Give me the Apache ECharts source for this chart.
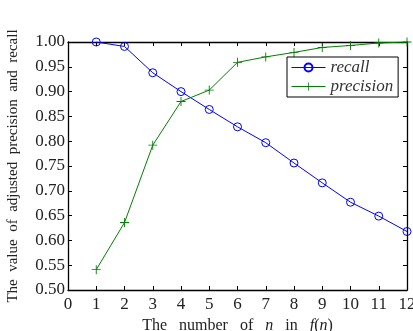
<!DOCTYPE html>
<html><head><meta charset="utf-8">
<script src="https://cdn.jsdelivr.net/npm/echarts@6/dist/echarts.min.js"></script>
<style>html,body{margin:0;padding:0;background:#fff}#c{width:413px;height:331px}</style>
</head><body><div id="c"></div>
<script>
var nValues = [1,2,3,4,5,6,7,8,9,10,11,12];
var recall = [1.000,0.991,0.938,0.900,0.864,0.829,0.797,0.756,0.716,0.677,0.649,0.618];
var precision = [0.541,0.636,0.792,0.880,0.903,0.959,0.970,0.979,0.989,0.993,0.998,1.000];
var xTicks = [0,12,1];
var yTicks = [0.5,1.0,0.05];

var font = 'Liberation Serif';
var plus = 'path://M4.5,0h1v4.5h4.5v1h-4.5v4.5h-1v-4.5h-4.5v-1h4.5z';
function pairs(v){return nValues.map(function(n,i){return [n,v[i]];});}
var chart = echarts.init(document.getElementById('c'));
var axisCommon = {
  axisLine:{show:true,onZero:false,lineStyle:{color:'#000',width:1.3}},
  axisTick:{show:true,inside:true,length:4,lineStyle:{color:'#000'}},
  splitLine:{show:false}
};
chart.setOption({
  animation:false,
  grid:{left:68,right:6,top:42,bottom:41,containLabel:false,outerBoundsMode:'none'},
  legend:{
    orient:'vertical',left:287,top:57,
    padding:[2,5,2,4],itemGap:2,itemWidth:34,itemHeight:10,
    borderColor:'#000',borderWidth:1,backgroundColor:'#fff',
    lineStyle:{width:1},
    textStyle:{fontFamily:font,fontStyle:'italic',fontSize:17,color:'#333'},
    data:['recall','precision']
  },
  xAxis:[
    Object.assign({type:'value',min:xTicks[0],max:xTicks[1],interval:xTicks[2],position:'bottom',
      axisLabel:{fontFamily:font,fontSize:17,color:'#222',margin:6},
      name:'{a|The   number   of   }{i|n}{a|   in   }{i|f}{a|(}{i|n}{a|)}',nameLocation:'middle',nameGap:23,
      nameTextStyle:{rich:{a:{fontFamily:font,fontSize:16,color:'#222'},i:{fontFamily:font,fontSize:16,fontStyle:'italic',color:'#222'}}}
    },axisCommon),
    Object.assign({type:'value',min:xTicks[0],max:xTicks[1],interval:xTicks[2],position:'top',axisLabel:{show:false}},axisCommon)
  ],
  yAxis:[
    Object.assign({type:'value',min:yTicks[0],max:yTicks[1],interval:yTicks[2],position:'left',
      axisLabel:{fontFamily:font,fontSize:17,color:'#222',margin:3,formatter:function(v){return v.toFixed(2);}},
      name:'The  value  of  adjusted  precision  and  recall',nameLocation:'middle',nameGap:47,
      nameTextStyle:{fontFamily:font,fontSize:15,color:'#222'}
    },axisCommon),
    Object.assign({type:'value',min:yTicks[0],max:yTicks[1],interval:yTicks[2],position:'right',axisLabel:{show:false}},axisCommon)
  ],
  series:[
    {name:'recall',type:'line',data:pairs(recall),symbol:'circle',symbolSize:8,
      lineStyle:{color:'#0000ff',width:1},itemStyle:{color:'rgba(255,255,255,0)',borderColor:'#0000ff',borderWidth:1}},
    {name:'precision',type:'line',data:pairs(precision),symbol:plus,symbolSize:9,
      lineStyle:{color:'#008000',width:1},itemStyle:{color:'#008000'}}
  ]
});
</script></body></html>
